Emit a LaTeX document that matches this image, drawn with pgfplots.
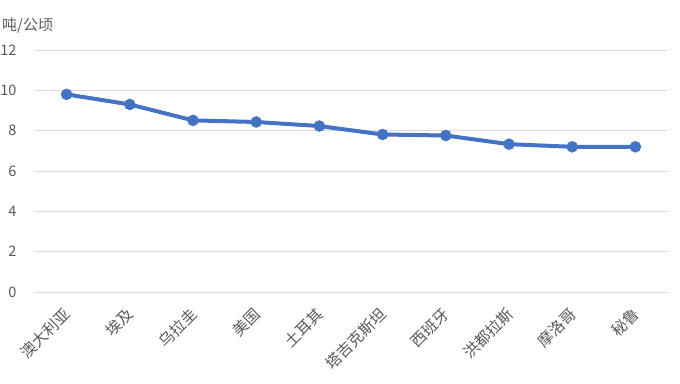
\documentclass[border=0pt]{standalone}
\usepackage{pgfplots}
\pgfplotsset{compat=1.18}
\usepackage{fontspec}
\setmainfont{Noto Sans CJK SC}
\definecolor{linec}{HTML}{4472C4}
\definecolor{gridc}{HTML}{D9D9D9}
\definecolor{textc}{HTML}{595959}
\begin{document}
\begin{tikzpicture}
\useasboundingbox (-35bp,-92bp) rectangle (645bp,292bp);
\begin{axis}[
  at={(0,0)}, anchor=south west,
  scale only axis, width=632bp, height=242bp,
  xmin=-0.5, xmax=9.5, ymin=0, ymax=12,
  ytick={0,2,...,12},
  xtick={0,...,9},
  xticklabels={澳大利亚,埃及,乌拉圭,美国,土耳其,塔吉克斯坦,西班牙,洪都拉斯,摩洛哥,秘鲁},
  ymajorgrids, grid style={gridc, line width=0.9bp},
  axis line style={draw=none},
  major tick length=0pt,
  /pgf/number format/assume math mode=true,
  tick label style={text=textc},
  yticklabel style={font=\fontsize{14.5bp}{17bp}\selectfont, anchor=east, xshift=-15bp},
  xticklabel style={font=\fontsize{15.5bp}{18bp}\selectfont, yshift=-19bp, xshift=1bp, rotate=45, anchor=east, inner sep=0pt},
  clip=false,
]
\addplot[linec, line width=4bp, mark=*, mark size=5.5bp, mark options={fill=linec, draw=linec, line width=0.5bp}]
coordinates {(0,9.80) (1,9.30) (2,8.51) (3,8.43) (4,8.23) (5,7.81) (6,7.76) (7,7.33) (8,7.20) (9,7.20)};
\end{axis}
\node[anchor=west, inner sep=0pt, text=textc, font=\fontsize{15bp}{18bp}\selectfont] at (-33bp,266bp) {吨/公顷};
\end{tikzpicture}
\end{document}
